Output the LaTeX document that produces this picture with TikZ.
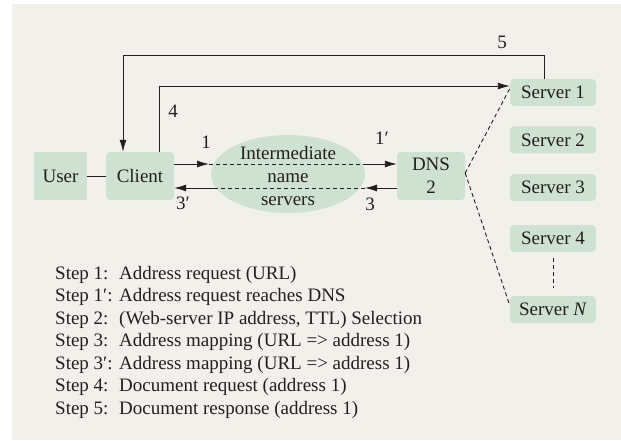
\documentclass[tikz,border=0pt]{standalone}
\usepackage{fontspec}
\setmainfont{Liberation Serif}
\usetikzlibrary{arrows.meta,shapes.geometric}
\definecolor{bg}{HTML}{F2F0EA}
\definecolor{boxg}{HTML}{CFE1D0}
\definecolor{ink}{HTML}{231F20}
\begin{document}
\begin{tikzpicture}[x=1pt,y=-1pt,
  font=\fontsize{19}{23}\selectfont,
  every node/.style={text=ink},
  box/.style={fill=boxg, rounded corners=4pt, inner sep=0pt},
  bigbox/.style={box, minimum width=68pt, minimum height=48pt},
  srv/.style={box, minimum width=86pt, minimum height=27pt},
  lab/.style={inner sep=0pt},
  conn/.style={draw=ink, line width=0.9pt},
  arr/.style={conn, -{Latex[length=12pt,width=7pt]}},
  dsh/.style={conn, dash pattern=on 4pt off 3pt},
  stepline/.style={anchor=base west, inner sep=0pt}]
\useasboundingbox (0,0) rectangle (621,441);
\fill[bg] (12,4) rectangle (621,440);

% nodes
\node[box, rounded corners=0pt, minimum width=53pt, minimum height=48pt] (user) at (60.5,176) {User};
\node[bigbox] (client) at (140,176) {Client};
\node[bigbox, align=center] (dns) at (431,176) {DNS\\2};
\node[ellipse, fill=boxg, minimum width=154pt, minimum height=78pt, inner sep=0pt] (ens) at (288,174) {};
\node[align=center, inner sep=0pt] (enstext) at (288,176) {Intermediate\\name\\servers};

\node[srv] (server1) at (553,92.5) {Server 1};
\node[srv] (server2) at (553,140) {Server 2};
\node[srv] (server3) at (553,187.5) {Server 3};
\node[srv] (server4) at (553,238.5) {Server 4};
\node[srv] (serverN) at (553,309.5) {Server \textit{N}};

% coordinates on the ellipse
\coordinate (a1l) at (209,164);
\coordinate (a1r) at (364,164);
\coordinate (a3l) at (215,188);
\coordinate (a3r) at (365,188);

% connectors
\draw[conn] (user) -- (client);
\draw[arr] ([xshift=-9pt]server1.north) -- ([xshift=-9pt]server1.north |- 0,55) -| ([xshift=-17pt]client.north);
\draw[arr] ([xshift=19pt]client.north) |- ([yshift=6.5pt]server1.west);
\draw[arr] ([yshift=12pt]client.east) -- (a1l);
\draw[dsh] (a1l) -- (a1r);
\draw[arr] (a1r) -- ([yshift=12pt]dns.west);
\draw[arr] ([yshift=-12pt]dns.west) -- (a3r);
\draw[dsh] (a3r) -- (a3l);
\draw[arr] (a3l) -- ([yshift=-12pt]client.east);
\draw[dsh] ([yshift=3pt]dns.east) -- ([yshift=4pt]server1.west);
\draw[dsh] ([yshift=3pt]dns.east) -- ([yshift=4pt]serverN.west);
\draw[dsh, shorten <=6pt, shorten >=8pt] (server4) -- (serverN);

% labels
\node[lab] (l5) at (502,42) {5};
\node[lab] (l4) at (173,111) {4};
\node[lab] (l1) at (206,142) {1};
\node[lab] (l1p) at (382,138) {1′};
\node[lab] (l3p) at (183,203) {3′};
\node[lab] (l3) at (370,204) {3};

% steps
\node[stepline] (s1) at (55,279.3) {\makebox[64pt][l]{Step 1:}Address request (URL)};
\node[stepline] (s2) at (55,301.8) {\makebox[64pt][l]{Step 1′:}Address request reaches DNS};
\node[stepline] (s3) at (55,324.3) {\makebox[64pt][l]{Step 2:}(Web-server IP address, TTL) Selection};
\node[stepline] (s4) at (55,346.8) {\makebox[64pt][l]{Step 3:}Address mapping (URL => address 1)};
\node[stepline] (s5) at (55,369.3) {\makebox[64pt][l]{Step 3′:}Address mapping (URL => address 1)};
\node[stepline] (s6) at (55,391.8) {\makebox[64pt][l]{Step 4:}Document request (address 1)};
\node[stepline] (s7) at (55,414.3) {\makebox[64pt][l]{Step 5:}Document response (address 1)};
\end{tikzpicture}
\end{document}
